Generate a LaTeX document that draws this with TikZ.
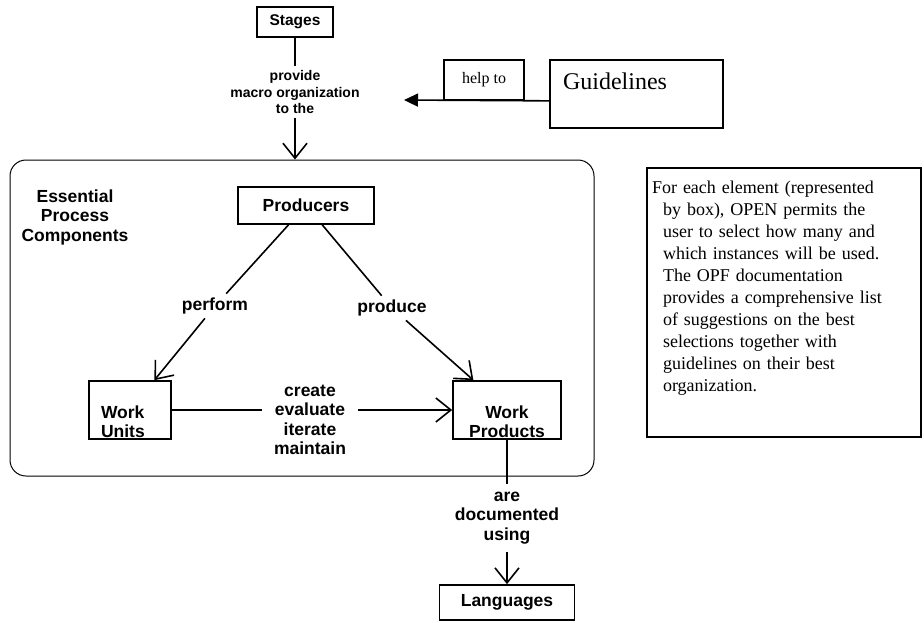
\documentclass[tikz,border=0pt]{standalone}
\usepackage{fontspec}
\setmainfont{Liberation Serif}
\setsansfont{Liberation Sans}
\usetikzlibrary{positioning,arrows.meta}

\begin{document}
\begin{tikzpicture}[x=1pt,y=-1pt,
    box/.style={draw,line width=1.7pt,inner sep=0pt},
    bf/.style={font=\sffamily\bfseries\fontsize{17.5}{19.5}\selectfont},
    lbl/.style={bf,align=center,inner sep=4pt},
    conn/.style={line width=1.6pt},
    barb/.style={conn,-{Straight Barb[length=15pt,width=24pt]}},
    tri/.style={conn,-{Triangle[length=14pt,width=13pt]}}]
  \useasboundingbox (0,0) rectangle (924,622);
  % top part
  \node[box,minimum width=76pt,minimum height=30pt,font=\sffamily\bfseries\fontsize{15.5}{17}\selectfont] (stages) at (295,22) {Stages};
  \node[align=center,inner sep=4pt,font=\sffamily\bfseries\fontsize{14}{16.5}\selectfont] (provide) at (295,92) {provide\\macro organization\\to the};
  \node[box,inner xsep=13pt,minimum width=173pt,minimum height=68pt,text width=147pt,align=left,text height=16pt,text depth=26pt,font=\fontsize{24}{28}\selectfont] (guide) at (636.5,94) {Guidelines};
  \node[box,minimum width=80pt,minimum height=40pt,font=\fontsize{16}{19}\selectfont] (helpto) at (484,80) {help to};
  \coordinate (helptip) at (404,100);
  % essential process components
  \node[draw,line width=1pt,rounded corners=16pt,minimum width=584pt,minimum height=316pt] (epc) at (302,318) {};
  \node[lbl] (epclbl) at (75,217) {Essential\\Process\\Components};
  \node[box,bf,minimum width=136pt,minimum height=37pt] (prod) at (306,205.5) {Producers};
  \node[box,bf,inner xsep=12pt,minimum width=82pt,minimum height=58pt,text width=58pt,align=left,text height=36.5pt] (wu) at (130,410) {Work\\Units};
  \node[box,bf,inner xsep=4pt,minimum width=108pt,minimum height=58pt,text width=100pt,align=center,text height=36.5pt] (wp) at (507,410) {Work\\Products};
  \node[lbl] (perform) at (215,306) {perform};
  \node[lbl] (produce) at (392,308) {produce};
  \node[lbl,inner xsep=12pt] (acts) at (310,420) {create\\evaluate\\iterate\\maintain};
  % bottom part
  \node[lbl,inner ysep=8pt] (docu) at (507,518) {are\\documented\\using};
  \node[box,bf,minimum width=135pt,minimum height=35pt] (lang) at (507,602.5) {Languages};
  % note
  \node[draw,line width=1.7pt,inner xsep=5pt,inner ysep=0pt,minimum width=274pt,minimum height=269pt,text width=264pt,text height=25pt,text depth=244pt,font=\fontsize{18}{22}\selectfont] (note) at (784,302.5)
    {For each element (represented\\\hspace*{11pt}by box), OPEN permits the\\\hspace*{11pt}user to select how many and\\\hspace*{11pt}which instances will be used.\\\hspace*{11pt}The OPF documentation\\\hspace*{11pt}provides a comprehensive list\\\hspace*{11pt}of suggestions on the best\\\hspace*{11pt}selections together with\\\hspace*{11pt}guidelines on their best\\\hspace*{11pt}organization.};
  % connectors
  \draw[conn] (stages) -- (provide);
  \draw[barb] (provide) -- (provide |- epc.north);
  \draw[tri] (guide.west |- helpto.south) -- (helptip);
  \draw[conn] (prod) -- (perform);
  \draw[barb] (perform) -- (wu);
  \draw[conn] (prod) -- (produce);
  \draw[barb] (produce) -- (wp);
  \draw[conn] (wu.east) -- (wu.east -| acts.west);
  \draw[barb] (wu.east -| acts.east) -- (wp.west);
  \draw[conn] (wp) -- (docu);
  \draw[barb] (docu) -- (lang);
\end{tikzpicture}
\end{document}
